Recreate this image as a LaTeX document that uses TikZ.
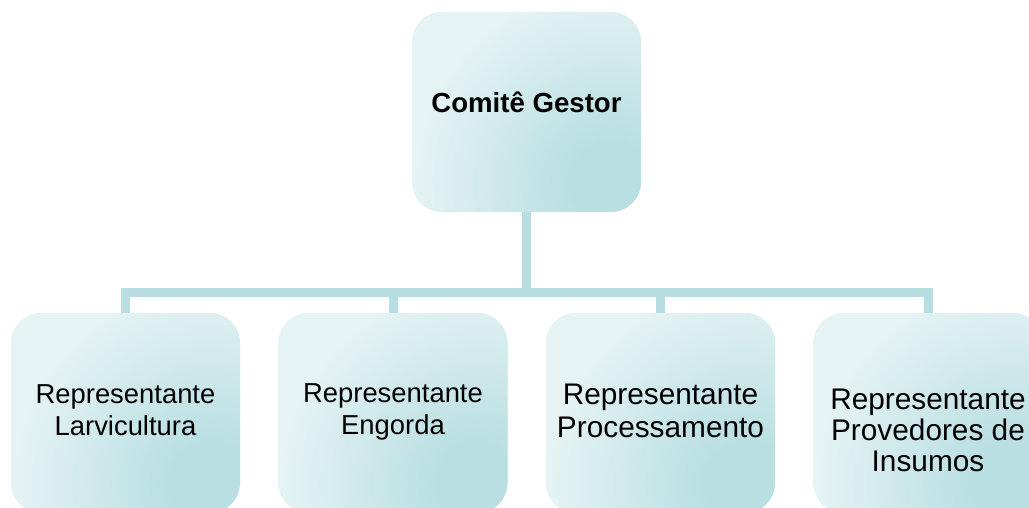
\documentclass[tikz,border=0pt]{standalone}
\usepackage{fontspec}
\setmainfont{Liberation Sans}
\definecolor{boxlight}{RGB}{229,243,244}
\definecolor{boxdark}{RGB}{186,223,226}
\definecolor{linecol}{RGB}{184,222,226}
\pgfdeclareradialshading{cornerglow}{\pgfpoint{0bp}{0bp}}{color(0bp)=(boxdark); color(4bp)=(boxdark); color(19bp)=(boxlight); color(50bp)=(boxlight)}
\begin{document}
\begin{tikzpicture}[x=1pt,y=-1pt,
  box/.style={shape=rectangle, rounded corners=30pt, minimum width=229pt,
    minimum height=200pt, inner sep=0pt, fill=boxlight,
    path picture={\shade[shading=cornerglow]
      ([shift={(-30pt,30pt)}]path picture bounding box.south east) circle (260pt);}},
  conn/.style={draw=linecol, line width=9pt},
  lbl/.style={align=center, text=black, inner sep=0pt},
  small/.style={font=\fontsize{27.4}{32}\selectfont},
  big/.style={font=\fontsize{29.8}{33}\selectfont}]
\useasboundingbox (0,0) rectangle (1029,508);
\clip (0,0) rectangle (1029,508);
\node[box] (top) at (526.5,112) {};
\node[box] (b1) at (125.5,413) {};
\node[box] (b2) at (393,413) {};
\node[box] (b3) at (660.5,413) {};
\node[box] (b4) at (928,413) {};
\draw[conn] (top.south) -- ++(0,80) -| (b1.north);
\draw[conn] (top.south) -- ++(0,80) -| (b2.north);
\draw[conn] (top.south) -- ++(0,80) -| (b3.north);
\draw[conn] (top.south) -- ++(0,80) -| (b4.north);
\node[lbl, font=\fontsize{27.6}{32}\selectfont\bfseries, anchor=base] (t0) at (526.5,113) {Comitê Gestor};
\node[lbl, small] (t1) at (125.5,410) {Representante\\Larvicultura};
\node[lbl, small] (t2) at (393,412) {Representante\\Engorda};
\node[lbl, big] (t3) at (660.5,410.5) {Representante\\Processamento};
\node[lbl, font=\fontsize{29.8}{31}\selectfont] (t4) at (928,430.5) {Representante\\Provedores de\\Insumos};
\end{tikzpicture}
\end{document}
